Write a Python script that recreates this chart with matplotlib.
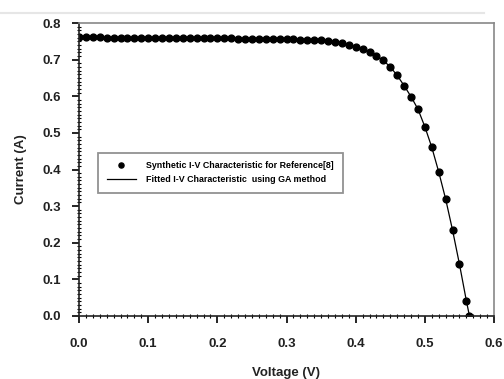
import matplotlib
matplotlib.use("Agg")
import matplotlib.pyplot as plt
from matplotlib.lines import Line2D
from matplotlib.ticker import MultipleLocator, FormatStrFormatter

# Data
voltage = [0.00, 0.01, 0.02, 0.03, 0.04, 0.05, 0.06, 0.07, 0.08, 0.09,
           0.10, 0.11, 0.12, 0.13, 0.14, 0.15, 0.16, 0.17, 0.18, 0.19,
           0.20, 0.21, 0.22, 0.23, 0.24, 0.25, 0.26, 0.27, 0.28, 0.29,
           0.30, 0.31, 0.32, 0.33, 0.34, 0.35, 0.36, 0.37, 0.38, 0.39,
           0.40, 0.41, 0.42, 0.43, 0.44, 0.45, 0.46, 0.47, 0.48, 0.49,
           0.50, 0.51, 0.52, 0.53, 0.54, 0.55, 0.56, 0.5645]
current_synthetic = [0.7610, 0.7608, 0.7607, 0.7605, 0.7604, 0.7602, 0.7601, 0.7599, 0.7598, 0.7596,
                     0.7595, 0.7593, 0.7592, 0.7590, 0.7589, 0.7587, 0.7586, 0.7584, 0.7583, 0.7581,
                     0.7580, 0.7578, 0.7577, 0.7575, 0.7573, 0.7571, 0.7569, 0.7566, 0.7563, 0.7560,
                     0.7556, 0.7552, 0.7547, 0.7541, 0.7534, 0.7525, 0.7512, 0.7490, 0.7450, 0.7400,
                     0.7340, 0.7280, 0.7200, 0.7100, 0.6980, 0.6800, 0.6570, 0.6290, 0.5990, 0.5650,
                     0.5170, 0.4610, 0.3940, 0.3200, 0.2350, 0.1420, 0.0420, 0.0000]
current_fitted = list(current_synthetic)

legend_labels = ["Synthetic I-V Characteristic for Reference[8]",
                 "Fitted I-V Characteristic  using GA method"]
x_label = "Voltage (V)"
y_label = "Current (A)"

plt.rcParams['font.family'] = ['Liberation Sans', 'DejaVu Sans']

fig = plt.figure(figsize=(5.04, 3.79), dpi=100)
ax = fig.add_axes([79/504, 1-316/379, (494-79)/504, (316-23)/379])

ax.plot(voltage, current_synthetic, linestyle='none', marker='o', color='black',
        markersize=4.9, label=legend_labels[0])
ax.plot(voltage, current_fitted, linestyle='-', color='black', linewidth=0.9,
        label=legend_labels[1])

ax.set_xlim(0, 0.6)
ax.set_ylim(0, 0.8)
ax.xaxis.set_major_locator(MultipleLocator(0.1))
ax.xaxis.set_minor_locator(MultipleLocator(0.01))
ax.yaxis.set_major_locator(MultipleLocator(0.1))
ax.yaxis.set_minor_locator(MultipleLocator(0.01))
ax.xaxis.set_major_formatter(FormatStrFormatter('%.1f'))
ax.yaxis.set_major_formatter(FormatStrFormatter('%.1f'))

ax.tick_params(which='major', direction='out', length=5, width=1.2,
               labelsize=9.5, top=False, right=False)
ax.tick_params(axis='x', which='major', pad=11)
ax.tick_params(axis='y', which='major', pad=8)
ax.tick_params(which='minor', direction='inout', length=3, width=0.8,
               top=False, right=False)
for lab in ax.get_xticklabels() + ax.get_yticklabels():
    lab.set_fontweight('bold')
    lab.set_color('#222222')

for s in ['left', 'bottom']:
    ax.spines[s].set_linewidth(1.2)
    ax.spines[s].set_color('#222222')
for s in ['top', 'right']:
    ax.spines[s].set_linewidth(1.2)
    ax.spines[s].set_color('#888888')

ax.set_xlabel(x_label, fontsize=9.5, fontweight='bold', labelpad=12, color='#222222')
ax.set_ylabel(y_label, fontsize=9.5, fontweight='bold', labelpad=11, color='#222222')

leg = ax.legend(loc='upper left', bbox_to_anchor=(0.036, 0.573),
                frameon=True, fancybox=False, shadow=False, borderpad=1.0,
                handlelength=3.2, labelspacing=0.5, handletextpad=1.2,
                markerscale=0.75, prop={'weight': 'bold', 'size': 6.4})
leg.get_frame().set_edgecolor('#777777')
leg.get_frame().set_linewidth(1.3)

fig.add_artist(Line2D([0, 0.96], [1-13/379, 1-13/379], color='#e6e6e6', linewidth=1.5))

fig.savefig("out.png", dpi=100)
